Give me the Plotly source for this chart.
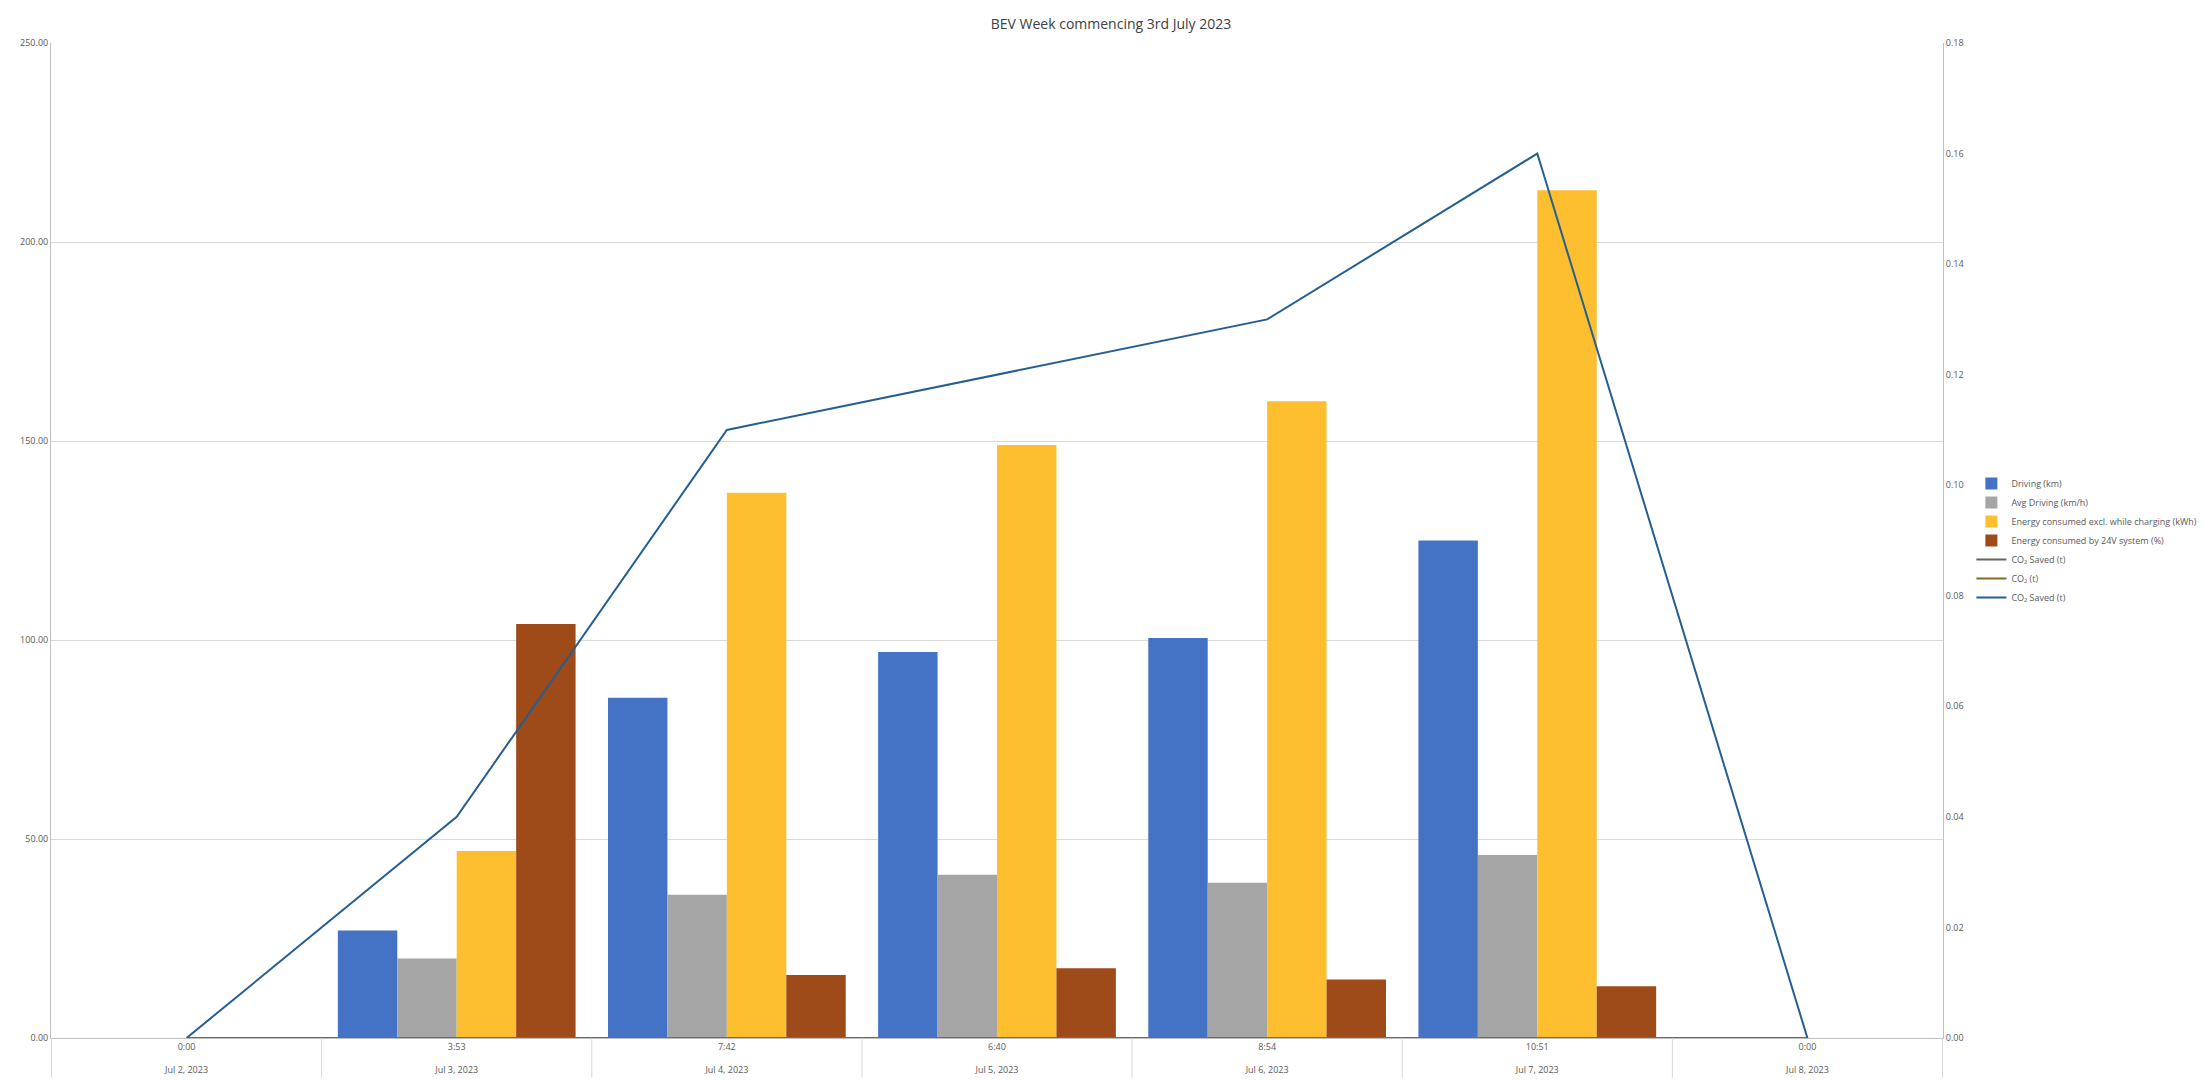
import plotly.graph_objects as go

cats = ["0:00<br><br>Jul 2, 2023", "3:53<br><br>Jul 3, 2023", "7:42<br><br>Jul 4, 2023",
        "6:40<br><br>Jul 5, 2023", "8:54<br><br>Jul 6, 2023", "10:51<br><br>Jul 7, 2023",
        "0:00<br><br>Jul 8, 2023"]
driving = [None, 27, 85.5, 97, 100.5, 125, None]
avg_driving = [None, 20, 36, 41, 39, 46, None]
energy = [None, 47, 137, 149, 160, 213, None]
energy24 = [None, 104, 15.8, 17.5, 14.7, 13, None]
co2_saved_grey = [0, 0, 0, 0, 0, 0, 0]
co2 = [0, 0, 0, 0, 0, 0, 0]
co2_saved = [0, 0.04, 0.11, 0.12, 0.13, 0.16, 0]

fig = go.Figure()
for name, vals, col in [("Driving (km)", driving, "#4472c4"),
                        ("Avg Driving (km/h)", avg_driving, "#a5a5a5"),
                        ("Energy consumed excl. while charging (kWh)", energy, "#fdbf2f"),
                        ("Energy consumed by 24V system (%)", energy24, "#9e4a19")]:
    fig.add_bar(x=cats, y=vals, name=name, marker_color=col, marker_line_width=0)
for name, vals, col in [("CO₂ Saved (t)", co2_saved_grey, "#636363"),
                        ("CO₂ (t)", co2, "#8a6a1c"),
                        ("CO₂ Saved (t)", co2_saved, "#255e91")]:
    fig.add_scatter(x=cats, y=vals, name=name, mode="lines", yaxis="y2",
                    line=dict(color=col, width=2))

fig.update_layout(
    width=2206, height=1080, plot_bgcolor="white", paper_bgcolor="white",
    margin=dict(l=35, r=229, t=35, b=40),
    title=dict(text="BEV Week commencing 3rd July 2023", x=0.5, y=0.99, yanchor="top",
               font=dict(size=14, color="#404040")),
    font=dict(family="Open Sans, sans-serif", color="#595959", size=9),
    barmode="group", bargap=0.12, bargroupgap=0,
    xaxis=dict(showgrid=False, showline=True, linecolor="#bfbfbf", ticks="", tickfont=dict(size=9)),
    yaxis=dict(range=[0, 250], tickvals=[0, 50, 100, 150, 200, 250], tickformat=".2f",
               gridcolor="#d9d9d9", showline=True, linecolor="#bfbfbf", zeroline=False),
    yaxis2=dict(range=[0, 0.18], dtick=0.02, tickformat=".2f", overlaying="y", side="right",
                showgrid=False, showline=True, linecolor="#bfbfbf", zeroline=False),
    legend=dict(x=1.015, y=0.5, xanchor="left", yanchor="middle", font=dict(size=9),
                tracegroupgap=2, itemwidth=30),
    showlegend=True,
)
# category separators
for i in range(8):
    fig.add_shape(type="line", xref="x", yref="paper", x0=i - 0.5, x1=i - 0.5, y0=0, y1=-0.04,
                  line=dict(color="#d9d9d9", width=1))
fig.write_html("out.html")
